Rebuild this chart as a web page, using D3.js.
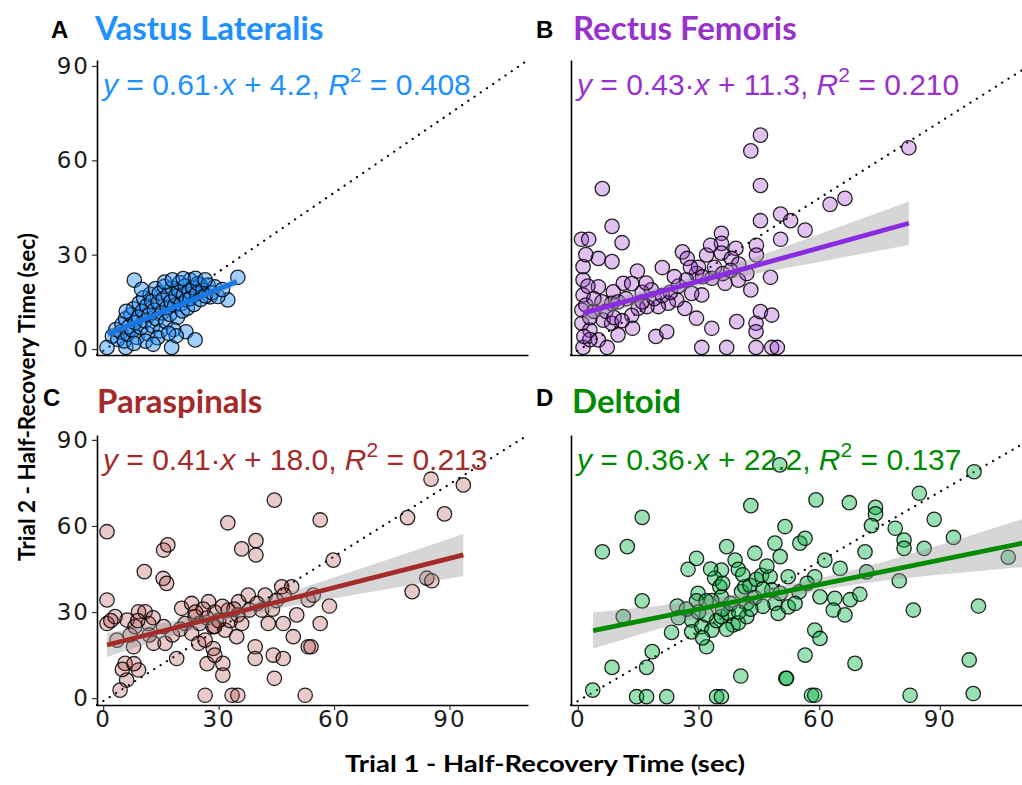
<!DOCTYPE html>
<html>
<head>
<meta charset="utf-8">
<script src="https://cdn.jsdelivr.net/npm/d3@7"></script>
<style>
  body { margin: 0; background: #fff; }
  svg { display: block; }
</style>
</head>
<body>
<svg id="chart" width="1022" height="785"></svg>
<script>
// points, [trial1, trial2] in seconds
let vastusPts = [
  [1,0.5],[5.9,0.5],[8.1,21.9],[17.8,0.5],[21.5,5.5],[23.9,2.9],[32.4,15.6],[35,22.8],[22.6,21.9],[25.2,20.4],[27.8,16.6],
  [2.4,4.1],[3.3,6.2],[3.8,3.1],[4.6,5.4],[4.9,7.8],[5.5,2.6],[5.8,9.6],[6.4,4.7],[6.7,7.1],[7.2,10.9],[7.6,5.9],
  [7.9,12.8],[8.3,8.4],[8.8,3.7],[9.1,10.2],[9.4,14.6],[9.8,6.8],[10.2,12.1],[10.5,16.3],[10.9,8.9],[11.3,13.7],
  [11.6,4.9],[11.9,10.8],[12.2,17.4],[12.6,15.1],[12.9,7.3],[13.3,12.4],[13.6,19.2],[13.9,9.6],[14.3,14.8],
  [14.6,17.8],[14.9,5.8],[15.3,11.5],[15.6,15.9],[15.9,19.9],[16.3,8.7],[16.6,13.3],[16.9,17.1],[17.3,11.0],
  [17.6,15.0],[17.9,19.4],[18.3,6.2],[18.6,13.9],[18.9,16.8],[19.3,10.1],[19.6,18.6],[19.9,21.1],[20.3,14.4],
  [20.6,12.1],[20.9,17.3],[21.3,20.0],[21.6,15.6],[21.9,13.0],[22.3,18.4],[22.6,16.0],[23.3,19.5],[23.6,14.2],
  [24.3,17.6],[24.6,20.8],[25.3,15.8],[25.9,18.7],[26.6,16.9],[27.3,20.3],[28.3,17.9],[29.0,19.8],[29.8,16.7],
  [31.0,18.9],[11.0,2.5],[14.1,3.6],[8.0,1.8],[6.0,12.0],[10.0,19.0],[16.0,21.3],[18.0,22.0],[20.8,22.4],
  [24.0,22.5],[26.5,22.0],[19.0,4.2],[17.0,5.0],[13.0,1.5]
];
let rectusPts = [
  [45.4,68],[43,63],[45.4,52],[6.1,51],[8.5,39],[11,33.8],[0.9,34.9],[2.7,34.9],[5.1,28.8],[8.5,27.8],[14.8,24.8],
  [21,25.9],[26,30.9],[27.2,28.8],[32,29.9],[35.7,36.8],[35.7,33.6],[35.7,30.5],[39.3,32],[38.2,28.8],[44.4,33],
  [44.4,29.9],[45.4,40.8],[50.4,42.9],[52.9,40.8],[56.5,37.8],[50.4,34.9],[47.9,22.8],[43,18.8],[39.9,21.9],
  [36.6,20.9],[33.3,22.5],[30.8,17.2],[28.3,17.7],[29.5,24.1],[26.6,12.9],[29.5,9.8],[24.6,15.6],[22.5,14.6],
  [20,13.5],[17.2,13.5],[18.3,18.8],[15,13],[13.4,10.7],[11.3,20.9],[13.4,20.8],[8.8,18.2],[8.4,14.5],[6.3,9.2],
  [8.4,8.2],[10,4.5],[13.6,6.6],[5.1,19.8],[1.3,26.2],[1.3,22],[1.3,17.2],[1,12.4],[1,8.2],[3,6],[5.1,2.9],
  [1.3,0.5],[7.3,0.5],[19.4,4],[22.1,5.5],[33.3,6.6],[30.8,0.5],[37,0.5],[39.5,8.7],[44.3,8.2],[44.3,5.5],
  [44.3,0.5],[45.4,11.9],[48.2,10.8],[48.2,0.5],[49.6,0.5],[62.7,46],[66.4,47.9],[82.3,64],
  [2,14],[3,10],[4,12],[6,15],[7,12],[9,10],[10,15],[12,16],[16,15],[19,16],[21,17],[23,18],[25,20],[27,22],
  [24,23],[30,26],[31,23],[34,26],[36,24],[40,27],[42,24],[38,25],[2,30],[3,3],[4,16],[11,9],[16,18],[17,21],
  [1.5,4],[2.5,20],[28,26],[33,33]
];
let paraPts = [
  [1,58],[44.5,69],[32.4,61.1],[36,52],[39.7,54.9],[39.7,49.9],[15.7,51.6],[16.8,53.4],[10.7,44.1],[15.6,41.7],
  [16.5,40],[1,34.2],[1,26],[3.1,28.4],[6.2,27.2],[9.2,30.1],[10.9,30.1],[8.3,24.9],[11.8,26],[15.7,24.9],
  [13.1,19.1],[16.1,19.1],[3.6,20.2],[7.9,17.9],[5.7,12.1],[9.2,9.8],[6.1,6.3],[4.4,2.8],[19.1,13.8],[26.5,1],
  [33.5,1],[35,1],[31.1,12.1],[31.1,8],[39.5,17.9],[39.5,13.8],[44.2,15],[46.8,13.8],[44.5,6.9],[20.4,31.3],
  [23,33],[27.4,33.6],[23.9,28.4],[21.3,26],[23,22.6],[24.8,19.1],[28.6,17.3],[26.5,20.2],[28.6,24.9],[31.7,23.7],
  [32.5,30.7],[35.2,33.6],[37.7,35.9],[38,30.7],[34.7,21.4],[41.2,30.7],[42.9,26],[42.1,35.9],[46.8,26],
  [46.4,38.8],[49,38.8],[50.3,29],[49.4,21.4],[53.3,34.2],[53.3,17.9],[52.5,1],[56.4,62.1],[85.2,76.3],
  [93.6,74.3],[79.1,62.9],[88.7,64.2],[59.8,48.1],[84.1,41.8],[85.4,40.9],[80.3,37.1],[58.8,32.1],[56.4,26],
  [54,17.9],[54.6,35.9],
  [25,26],[27,28],[29,30],[30,27],[33,27],[35,29],[36,26],[40,33],[44,31],[45,34],[47,36],[20,24],[18,22],
  [26,31],[29,25],[31,32],[34,31],[12,22],[7,22],[2,27],[9,27],[13,28],[24,30],[5,10],[8,12],[27,12],[29,15]
];
let deltoidPts = [
  [3.7,2.8],[8.5,10.7],[17.1,10.7],[18.5,16.2],[23.3,22.9],[14.6,0.5],[17.1,0.5],[22.1,0.5],[34.5,0.5],[35.7,0.5],
  [6.1,51],[12.3,52.8],[16,63],[16,33.9],[11.3,28.4],[24.7,32.1],[43,67.1],[37,52.8],[29.5,48.7],[27.4,44.9],
  [32,17.9],[40.5,7.7],[51.7,6.9],[51.5,59.8],[49,54],[50.3,49.3],[44,50.5],[39.1,48.1],[39.9,44.9],[35.7,44.6],
  [34,41.8],[35.3,38.8],[35.7,35.3],[33.3,34],[29.9,36.5],[29.5,33.9],[31.9,33.9],[28.3,27.2],[28.3,23.1],
  [30.8,24.9],[33.3,23.7],[34.5,27],[35.7,28.4],[37.4,29.5],[38.6,25.5],[39.9,26.2],[42,28.4],[42,33],[40.7,37.1],
  [41.5,38.8],[42.8,39.3],[44.4,41.4],[45.7,42.8],[47.8,42.3],[48.2,37.7],[49,33],[49.8,29.5],[52.3,31.8],
  [52.3,42.3],[50.3,36.5],[98.5,78.9],[84.9,71.4],[59.2,69.1],[67.5,68.1],[74,66.5],[74,64.2],[73,60.1],
  [88.6,62.3],[78.9,59.2],[81.1,55.1],[81.1,52.2],[93.4,56],[86.1,52.2],[107,49.1],[71.4,51],[61.4,48.1],
  [65.2,45.2],[71.8,44],[79.9,40.9],[58.9,42.3],[60.2,35.3],[63.9,34.8],[63.5,30.7],[66.4,29],[67.7,34.3],
  [70.1,36.2],[83.4,30.7],[99.6,32.1],[58.9,23.7],[60.2,20.8],[56.5,15],[68.9,12.1],[97.3,13.3],[51.9,6.9],
  [58.1,1],[58.9,1],[82.6,1],[98.3,1.6],[55.2,54],[56.5,55.7],[50.2,81.3],
  [36,31],[38,33],[44,35],[46,32],[32,29],[30,30],[27,31],[46,38],[55,37],[57,40],[54,33],[43,31],[40,30],
  [37,24],[31,21],[25,28],[36,40],[47,46],[33,45],[41,43]
];

// fitted lines (ends) and confidence band [x, lower, upper], as drawn
let vastusFit = [[1.2, 4.8], [34.7, 21.4]];
let rectusFit = [[1.3, 11.4], [82.3, 40]];
let paraFit = [[1, 18.5], [93.6, 49.9]];
let deltoidFit = [[3.8, 23.5], [114.4, 55.1]];

let vastusBand = [[1.2, 3.4, 6.2], [18, 12.4, 13.8], [34.7, 20.0, 22.8]];
let rectusBand = [[1.3, 8.4, 14.4], [20, 16.4, 19.6], [40, 22.8, 27.4], [60, 27.7, 36.5], [82.3, 33.1, 46.9]];
let paraBand = [[1, 14.3, 22.7], [20, 22.5, 27.3], [40, 29.6, 33.6], [60, 34.8, 42.0], [93.6, 42.6, 57.2]];
let deltoidBand = [[3.8, 17.2, 29.8], [30, 28.0, 34.0], [52, 35.1, 39.5], [75, 40.7, 47.1], [114.4, 46.1, 64.1]];

let muscles = ["Vastus Lateralis", "Rectus Femoris", "Paraspinals", "Deltoid"];
let panelLetters = ["A", "B", "C", "D"];
let slopes = ["0.61", "0.43", "0.41", "0.36"];
let intercepts = ["4.2", "11.3", "18.0", "22.2"];
let rSquared = ["0.408", "0.210", "0.213", "0.137"];
let ticks = [0, 30, 60, 90];

let svg = d3.select("#chart");

let leftX = d3.scaleLinear().domain([-1.6, 110.4]).range([97, 528]);
let rightX = d3.scaleLinear().domain([-1.7, 114.4]).range([571, 1038]);
let topY = d3.scaleLinear().domain([-1.9, 91.9]).range([355, 60]);
let bottomY = d3.scaleLinear().domain([-2.4, 91.7]).range([705, 435]);

let panels = [
  {pts: vastusPts, fit: vastusFit, band: vastusBand, x: leftX, y: topY,
   text: "#1E90FF", line: "#1777e6", fill: "#1E90FF", op: 0.42,
   letterX: 51, letterY: 38, titleX: 95, titleY: 40, yLab: true, xLab: false},
  {pts: rectusPts, fit: rectusFit, band: rectusBand, x: rightX, y: topY,
   text: "#9932CC", line: "#8a2be2", fill: "#9932CC", op: 0.3,
   letterX: 536, letterY: 38, titleX: 573, titleY: 40, yLab: false, xLab: false},
  {pts: paraPts, fit: paraFit, band: paraBand, x: leftX, y: bottomY,
   text: "#A52A2A", line: "#A52A2A", fill: "#A52A2A", op: 0.25,
   letterX: 43, letterY: 406, titleX: 97, titleY: 413, yLab: true, xLab: true},
  {pts: deltoidPts, fit: deltoidFit, band: deltoidBand, x: rightX, y: bottomY,
   text: "#008B00", line: "#008B00", fill: "#00b140", op: 0.4,
   letterX: 536, letterY: 406, titleX: 572, titleY: 413, yLab: false, xLab: true}
];

panels.forEach((p, i) => {
  let g = svg.append("g");
  let x = p.x, y = p.y;
  let xd = x.domain(), yd = y.domain();

  // axes
  let yAxis = d3.axisLeft(y)
    .tickValues(p.yLab ? ticks : [])
    .tickSize(5).tickSizeOuter(0).tickPadding(2);
  let xAxis = d3.axisBottom(x)
    .tickValues(p.xLab ? ticks : [])
    .tickSize(5).tickSizeOuter(0).tickPadding(1);

  let ya = g.append("g").attr("transform", "translate(" + x.range()[0] + ",0)").call(yAxis);
  let xa = g.append("g").attr("transform", "translate(0," + y.range()[0] + ")").call(xAxis);
  [ya, xa].forEach(a => {
    a.select(".domain").attr("stroke", "#000").attr("stroke-width", 1.6);
    a.selectAll(".tick line").attr("stroke", "#333").attr("stroke-width", 1.2);
    a.selectAll(".tick text")
      .attr("fill", "#1a1a1a")
      .style("font-family", "'DejaVu Sans', sans-serif")
      .style("font-size", "23px")
      .style("letter-spacing", "2px");
  });

  // diagonal reference line
  g.append("line")
    .attr("x1", x(xd[0])).attr("y1", y(yd[0]))
    .attr("x2", x(xd[1])).attr("y2", y(yd[1]))
    .attr("stroke", "#000")
    .attr("stroke-width", 2.2)
    .attr("stroke-linecap", "round")
    .attr("stroke-dasharray", "0.1,7.4");

  // points
  g.append("g").selectAll("circle")
    .data(p.pts)
    .enter()
    .append("circle")
    .attr("cx", d => x(d[0]))
    .attr("cy", d => y(d[1]))
    .attr("r", 7.2)
    .attr("fill", p.fill)
    .attr("fill-opacity", p.op)
    .attr("stroke", "#000")
    .attr("stroke-opacity", 0.85)
    .attr("stroke-width", 1.3);

  // confidence band
  let area = d3.area()
    .x(d => x(d[0]))
    .y0(d => y(d[1]))
    .y1(d => y(d[2]))
    .curve(d3.curveNatural);
  g.append("path")
    .attr("d", area(p.band))
    .attr("fill", "#999")
    .attr("fill-opacity", 0.4);

  // fitted line
  g.append("path")
    .attr("d", d3.line().x(d => x(d[0])).y(d => y(d[1]))(p.fit))
    .attr("fill", "none")
    .attr("stroke", p.line)
    .attr("stroke-width", 4.8);

  // panel letter + muscle name
  g.append("text")
    .attr("x", p.letterX).attr("y", p.letterY)
    .style("font-family", "'Liberation Sans', Arial, sans-serif")
    .style("font-weight", "bold")
    .style("font-size", "24px")
    .text(panelLetters[i]);
  g.append("text")
    .attr("x", p.titleX).attr("y", p.titleY)
    .attr("fill", p.text)
    .style("font-family", "Lato, sans-serif")
    .style("font-weight", "bold")
    .style("font-size", "33px")
    .text(muscles[i]);

  // regression equation
  let eq = g.append("text")
    .attr("x", x(xd[0]) + 6)
    .attr("y", y(yd[1]) + 35)
    .attr("fill", p.text)
    .style("font-family", "'Liberation Sans', Arial, sans-serif")
    .style("font-size", "30px");
  eq.append("tspan").style("font-style", "italic").text("y");
  eq.append("tspan").text(" = " + slopes[i] + "\u00b7");
  eq.append("tspan").style("font-style", "italic").text("x");
  eq.append("tspan").text(" + " + intercepts[i] + ", ");
  eq.append("tspan").style("font-style", "italic").text("R");
  eq.append("tspan").attr("dy", -13).style("font-size", "21px").text("2");
  eq.append("tspan").attr("dy", 13).text(" = " + rSquared[i]);
});

// axis titles, squeezed to the width they have in the figure
function axisTitle(label, cx, cy, angle, width) {
  let t = svg.append("text")
    .attr("text-anchor", "middle")
    .style("font-family", "Lato, sans-serif")
    .style("font-weight", "bold")
    .style("font-size", "23px")
    .text(label);
  let sx = width / t.node().getComputedTextLength();
  t.attr("transform", "translate(" + cx + "," + cy + ") rotate(" + angle + ") scale(" + sx + ",1)");
}
axisTitle("Trial 1 - Half-Recovery Time (sec)", 545, 772, 0, 400);
axisTitle("Trial 2 - Half-Recovery Time (sec)", 35, 397, -90, 328);
</script>
</body>
</html>
